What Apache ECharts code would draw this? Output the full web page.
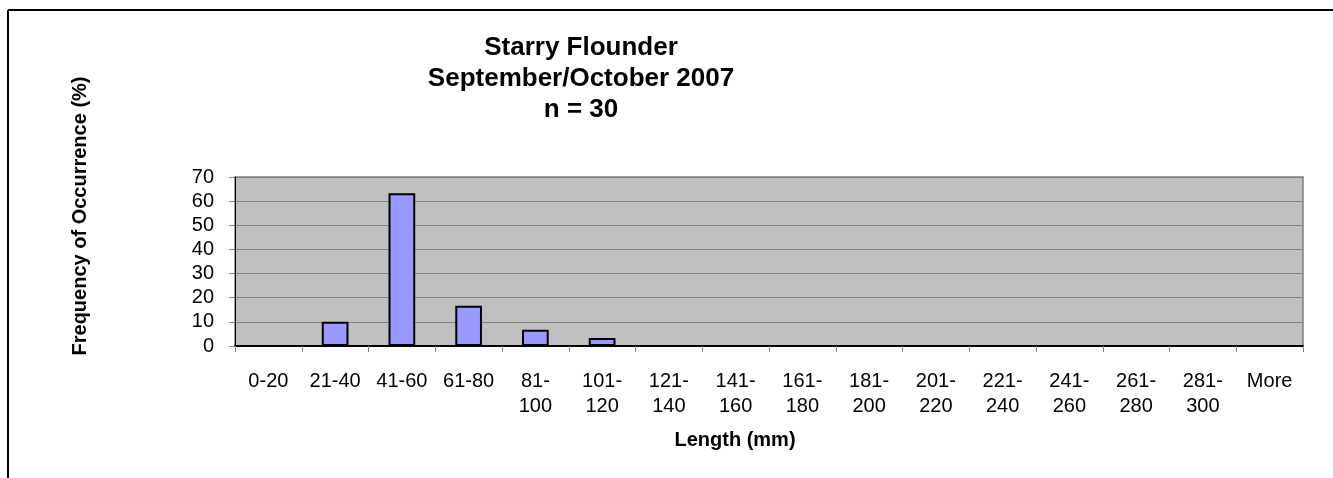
<!DOCTYPE html>
<html>
<head>
<meta charset="utf-8">
<script src="https://cdn.jsdelivr.net/npm/echarts@6/dist/echarts.min.js"></script>
<style>
  html, body { margin: 0; padding: 0; background: #fff; }
  #chart { width: 1333px; height: 478px; }
</style>
</head>
<body>
<div id="chart"></div>
<script>
// Length classes (mm) and share of fish in each class (%)
const lengthClasses = ['0-20', '21-40', '41-60', '61-80', '81-\n100', '101-\n120', '121-\n140',
  '141-\n160', '161-\n180', '181-\n200', '201-\n220', '221-\n240', '241-\n260', '261-\n280',
  '281-\n300', 'More'];
const frequencyPct = [0, 10, 63.3, 16.7, 6.7, 3.3, 0, 0, 0, 0, 0, 0, 0, 0, 0, 0];
const titleLines = ['Starry Flounder', 'September/October 2007', 'n = 30'];
const yAxisTitle = 'Frequency of Occurrence (%)';
const xAxisTitle = 'Length (mm)';

const FONT = '"Liberation Sans", Arial, Helvetica, sans-serif';
const chart = echarts.init(document.getElementById('chart'), null, { renderer: 'canvas' });

chart.setOption({
  backgroundColor: '#ffffff',
  animation: false,
  title: {
    text: titleLines.join('\n'),
    left: 581,
    top: 32,
    textAlign: 'center',
    padding: 0,
    textStyle: { fontFamily: FONT, fontSize: 26, fontWeight: 'bold', color: '#000', lineHeight: 31 }
  },
  grid: {
    left: 235, right: 30, top: 177, bottom: 132,
    show: true,
    backgroundColor: '#C0C0C0',
    borderColor: '#808080',
    borderWidth: 1.5,
    containLabel: false
  },
  xAxis: {
    type: 'category',
    data: lengthClasses,
    axisLine: { show: true, lineStyle: { color: '#000', width: 2 } },
    axisTick: { show: true, length: 6, lineStyle: { color: '#808080', width: 1 } },
    axisLabel: {
      interval: 0, margin: 23, color: '#000', fontFamily: FONT, fontSize: 20, lineHeight: 25
    },
    splitLine: { show: false }
  },
  yAxis: {
    type: 'value',
    min: 0, max: 70, interval: 10,
    axisLine: { show: true, lineStyle: { color: '#000', width: 1 } },
    axisTick: { show: true, length: 6, lineStyle: { color: '#808080', width: 1 } },
    axisLabel: { margin: 21, color: '#000', fontFamily: FONT, fontSize: 20 },
    splitLine: { show: true, lineStyle: { color: '#808080', width: 1 } }
  },
  series: [{
    type: 'bar',
    data: frequencyPct,
    barWidth: '40%',
    itemStyle: { color: '#9999FF', borderColor: '#000', borderWidth: 2 }
  }],
  graphic: [
    // frame lines along the top and left edges
    { type: 'line', shape: { x1: 8, y1: 10, x2: 1333, y2: 10 }, style: { stroke: '#000', lineWidth: 2 } },
    { type: 'line', shape: { x1: 8, y1: 10, x2: 8, y2: 478 }, style: { stroke: '#000', lineWidth: 2 } },
    {
      type: 'text', x: 80, y: 216, rotation: Math.PI / 2,
      style: { text: yAxisTitle, fontFamily: FONT, fontSize: 20, fontWeight: 'bold', fill: '#000',
               textAlign: 'center', textVerticalAlign: 'middle' }
    },
    {
      type: 'text', x: 735, y: 440,
      style: { text: xAxisTitle, fontFamily: FONT, fontSize: 20, fontWeight: 'bold', fill: '#000',
               textAlign: 'center', textVerticalAlign: 'middle' }
    }
  ]
});
</script>
</body>
</html>
